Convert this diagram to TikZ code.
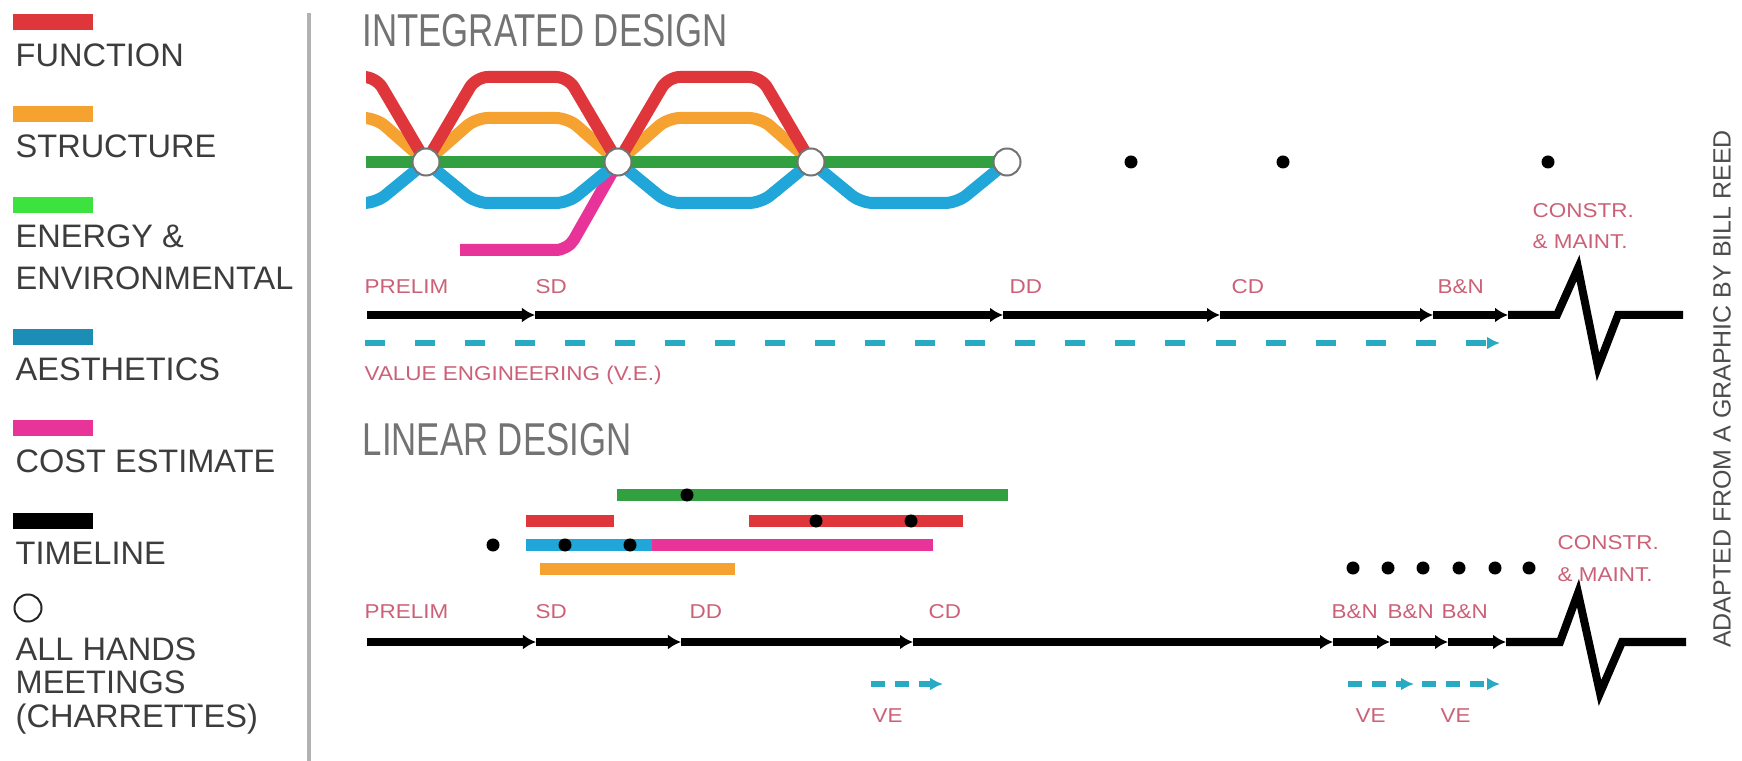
\documentclass[tikz,border=0pt]{standalone}
\usepackage{fontspec}
\setmainfont{Liberation Sans}
\newfontfamily\headfont[FakeStretch=0.755]{Liberation Sans}
\newfontfamily\stagefont[FakeStretch=1.12]{Liberation Sans}
\usetikzlibrary{arrows.meta, calc}

\definecolor{fnred}{RGB}{222,54,58}
\definecolor{strorange}{RGB}{246,162,48}
\definecolor{envgreen}{RGB}{50,160,64}
\definecolor{keygreen}{RGB}{62,226,62}
\definecolor{aesblue}{RGB}{32,166,216}
\definecolor{keyblue}{RGB}{28,142,182}
\definecolor{costpink}{RGB}{232,52,152}
\definecolor{stagered}{RGB}{204,96,118}
\definecolor{vecyan}{RGB}{40,170,195}
\definecolor{inkgray}{RGB}{60,60,60}

\begin{document}
\begin{tikzpicture}[x=0.01cm, y=-0.01cm, inner sep=0pt,
	legendbar/.style={minimum width=0.8cm, minimum height=0.16cm},
	keytext/.style={anchor=base west, text=inkgray, font=\fontsize{9.25}{11}\selectfont},
	headline/.style={anchor=base west, text=black!55, font=\headfont\fontsize{13.1}{15}\selectfont},
	stagelabel/.style={anchor=base west, text=stagered, font=\stagefont\fontsize{5.7}{7}\selectfont},
	track/.style={line width=0.12cm, rounded corners=0.12cm},
	bar/.style={line width=0.12cm},
	timeline/.style={line width=0.08cm, -{Latex[length=0.13cm,width=0.15cm]}},
	ve/.style={line width=0.06cm, vecyan, dash pattern=on 0.2cm off 0.3cm, -{Latex[length=0.13cm,width=0.13cm]}},
	meeting/.style={circle, draw=black!55, line width=0.02cm, fill=white, minimum size=0.27cm},
	review/.style={circle, fill=black, minimum size=0.13cm}]
			\useasboundingbox (0,0) rectangle (1742,761);
			
			\node[legendbar, fill=fnred] (fnkey) at (53,22) {};
			\node[keytext] (fntext) at (15,67) {FUNCTION};
			\node[legendbar, fill=strorange] (strkey) at (53,114) {};
			\node[keytext] (strtext) at (15,158) {STRUCTURE};
			\node[legendbar, fill=keygreen] (envkey) at (53,205) {};
			\node[keytext] (envtext) at (15,248) {ENERGY \&};
			\node[keytext] (envtext2) at (15,290) {ENVIRONMENTAL};
			\node[legendbar, fill=keyblue] (aeskey) at (53,337) {};
			\node[keytext] (aestext) at (15,381) {AESTHETICS};
			\node[legendbar, fill=costpink] (costkey) at (53,428) {};
			\node[keytext] (costtext) at (15,473) {COST ESTIMATE};
			\node[legendbar, fill=black] (tlkey) at (53,521) {};
			\node[keytext] (tltext) at (15,564) {TIMELINE};
			\node[meeting, draw=black!85, minimum size=0.27cm] (meetkey) at (28,608) {};
			\node[keytext] (meettext) at (15,660) {ALL HANDS};
			\node[keytext] (meettext2) at (15,693) {MEETINGS};
			\node[keytext] (meettext3) at (15,727) {(CHARRETTES)};
			
			\draw[black!30, line width=0.04cm] (309,13) -- (309,761);
			
			\node[headline] (inttitle) at (362,47) {INTEGRATED DESIGN};
			
			\coordinate (c1) at (426,162);
			\coordinate (c2) at (618,162);
			\coordinate (c3) at (811,162);
			\coordinate (c4) at (1007,162);
			
			\begin{scope}
			\clip (366,0) rectangle (1100,300);
			\draw[track, costpink] (460,250) -- ($(c2)+(-50,88)$) -- (c2);
			\draw[track, aesblue] (330,203) -- ($(c1)+(-50,41)$) -- (c1) -- ($(c1)+(50,41)$) -- ($(c2)+(-50,41)$) -- (c2) -- ($(c2)+(50,41)$) -- ($(c3)+(-50,41)$) -- (c3) -- ($(c3)+(50,41)$) -- ($(c4)+(-50,41)$) -- (c4);
			\draw[track, strorange] (330,118) -- ($(c1)+(-50,-44)$) -- (c1) -- ($(c1)+(50,-44)$) -- ($(c2)+(-50,-44)$) -- (c2) -- ($(c2)+(50,-44)$) -- ($(c3)+(-50,-44)$) -- (c3);
			\draw[track, fnred] (330,77) -- ($(c1)+(-50,-85)$) -- (c1) -- ($(c1)+(50,-85)$) -- ($(c2)+(-50,-85)$) -- (c2) -- ($(c2)+(50,-85)$) -- ($(c3)+(-50,-85)$) -- (c3);
			\draw[track, envgreen] (330,162) -- (c4);
			\end{scope}
			
			\node[meeting] (m1) at (c1) {};
			\node[meeting] (m2) at (c2) {};
			\node[meeting] (m3) at (c3) {};
			\node[meeting] (m4) at (c4) {};
			\node[review] (r1) at (1131,162) {};
			\node[review] (r2) at (1283,162) {};
			\node[review] (r3) at (1548,162) {};
			
			\node[stagelabel] (iprelim) at (364,294) {PRELIM};
			\node[stagelabel] (isd) at (535,294) {SD};
			\node[stagelabel] (idd) at (1009,294) {DD};
			\node[stagelabel] (icd) at (1231,294) {CD};
			\node[stagelabel] (ibn) at (1437,294) {B\&N};
			\node[stagelabel] (iconstr) at (1532,218) {CONSTR.};
			\node[stagelabel] (imaint) at (1532,249) {\& MAINT.};
			
			\coordinate (i0) at (367,315);
			\coordinate (i1) at (535,315);
			\coordinate (i2) at (1003,315);
			\coordinate (i3) at (1220,315);
			\coordinate (i4) at (1433,315);
			\coordinate (i5) at (1508,315);
			\coordinate (ib) at (1557,315);
			\coordinate (iz1) at (1578,268);
			\coordinate (iz2) at (1598,367);
			\coordinate (iz3) at (1618,315);
			\coordinate (ie) at (1683,315);
			
			\draw[timeline] (i0) -- (i1);
			\draw[timeline] (i1) -- (i2);
			\draw[timeline] (i2) -- (i3);
			\draw[timeline] (i3) -- (i4);
			\draw[timeline] (i4) -- (i5);
			\draw[line width=0.08cm] (i5) -- (ib) -- (iz1) -- (iz2) -- (iz3) -- (ie);
			
			\coordinate (v0) at (365,343);
			\coordinate (v1) at (1500,343);
			\draw[ve] (v0) -- (v1);
			\node[stagelabel] (vetext) at (364,381) {VALUE ENGINEERING (V.E.)};
			
			\node[headline] (lintitle) at (362,456) {LINEAR DESIGN};
			
			\draw[bar, envgreen] (617,495) -- (1008,495);
			\draw[bar, fnred] (526,521) -- (614,521);
			\draw[bar, fnred] (749,521) -- (963,521);
			\draw[bar, aesblue] (526,545) -- (652,545);
			\draw[bar, costpink] (652,545) -- (933,545);
			\draw[bar, strorange] (540,569) -- (735,569);
			
			\node[review] (d1) at (687,495) {};
			\node[review] (d2) at (816,521) {};
			\node[review] (d3) at (911,521) {};
			\node[review] (d4) at (493,545) {};
			\node[review] (d5) at (565,545) {};
			\node[review] (d6) at (630,545) {};
			\node[review] (b1) at (1353,568) {};
			\node[review] (b2) at (1388,568) {};
			\node[review] (b3) at (1423,568) {};
			\node[review] (b4) at (1459,568) {};
			\node[review] (b5) at (1495,568) {};
			\node[review] (b6) at (1529,568) {};
			
			\node[stagelabel] (lprelim) at (364,618) {PRELIM};
			\node[stagelabel] (lsd) at (535,618) {SD};
			\node[stagelabel] (ldd) at (689,618) {DD};
			\node[stagelabel] (lcd) at (928,618) {CD};
			\node[stagelabel] (lbn1) at (1331,618) {B\&N};
			\node[stagelabel] (lbn2) at (1387,618) {B\&N};
			\node[stagelabel] (lbn3) at (1441,618) {B\&N};
			\node[stagelabel] (lconstr) at (1557,550) {CONSTR.};
			\node[stagelabel] (lmaint) at (1557,581) {\& MAINT.};
			
			\coordinate (l0) at (367,642);
			\coordinate (l1) at (536,642);
			\coordinate (l2) at (681,642);
			\coordinate (l3) at (913,642);
			\coordinate (l4) at (1333,642);
			\coordinate (l5) at (1390,642);
			\coordinate (l6) at (1448,642);
			\coordinate (l7) at (1506,642);
			\coordinate (lb) at (1560,642);
			\coordinate (lz1) at (1578,593);
			\coordinate (lz2) at (1600,693);
			\coordinate (lz3) at (1622,642);
			\coordinate (le) at (1686,642);
			
			\draw[timeline] (l0) -- (l1);
			\draw[timeline] (l1) -- (l2);
			\draw[timeline] (l2) -- (l3);
			\draw[timeline] (l3) -- (l4);
			\draw[timeline] (l4) -- (l5);
			\draw[timeline] (l5) -- (l6);
			\draw[timeline] (l6) -- (l7);
			\draw[line width=0.08cm] (l7) -- (lb) -- (lz1) -- (lz2) -- (lz3) -- (le);
			
			\coordinate (w0) at (871,684);
			\coordinate (w1) at (943,684);
			\coordinate (w2) at (1348,684);
			\coordinate (w3) at (1414,684);
			\coordinate (w4) at (1422,684);
			\coordinate (w5) at (1500,684);
			\draw[ve, dash pattern=on 0.14cm off 0.1cm] (w0) -- (w1);
			\draw[ve, dash pattern=on 0.14cm off 0.1cm] (w2) -- (w3);
			\draw[ve, dash pattern=on 0.14cm off 0.1cm] (w4) -- (w5);
			\node[stagelabel] (ve1) at (872,722) {VE};
			\node[stagelabel] (ve2) at (1355,722) {VE};
			\node[stagelabel] (ve3) at (1440,722) {VE};
			
			\node[rotate=90, text=black!70, font=\fontsize{7.1}{8}\selectfont] (credit) at (1722,389) {ADAPTED FROM A GRAPHIC BY BILL REED};
			\end{tikzpicture}
\end{document}
